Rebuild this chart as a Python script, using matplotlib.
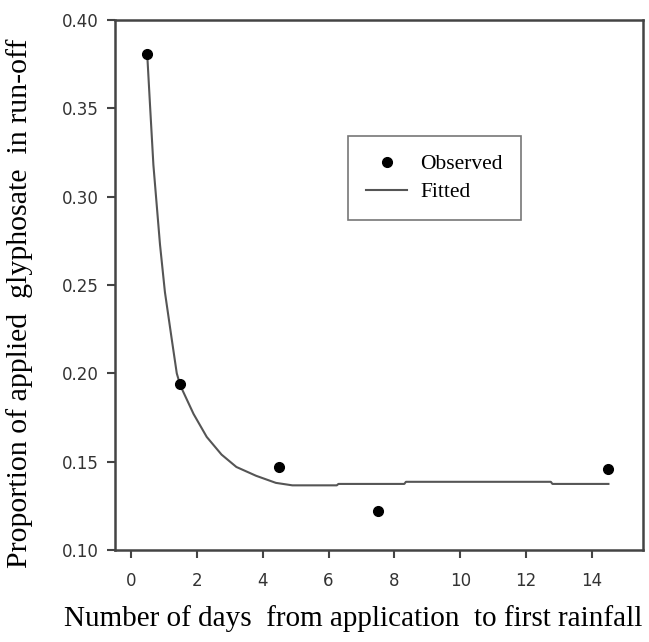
import matplotlib
matplotlib.use("Agg")
import matplotlib.pyplot as plt

# Observed data
obs_x = [0.5, 1.5, 4.5, 7.5, 14.5]
obs_y = [0.381, 0.194, 0.147, 0.122, 0.146]

# Fitted curve
fit_x = [0.5, 0.58, 0.68, 0.88, 1.03, 1.24, 1.39, 1.5, 1.9, 2.3, 2.75, 3.2, 3.8, 4.4, 4.9, 6.25, 6.3, 8.3, 8.35, 12.75, 12.8, 14.5]
fit_y = [0.378, 0.351, 0.318, 0.273, 0.246, 0.219, 0.200, 0.193, 0.177, 0.164, 0.154, 0.147, 0.142, 0.138, 0.1366, 0.1366, 0.1374, 0.1374, 0.1386, 0.1386, 0.1374, 0.1374]

x_ticks = [0, 2, 4, 6, 8, 10, 12, 14]
y_ticks = [0.10, 0.15, 0.20, 0.25, 0.30, 0.35, 0.40]

fig = plt.figure(figsize=(6.49, 6.42), dpi=100)
ax = fig.add_axes([115/649, 1-550/642, (643-115)/649, (550-20)/642])

ax.plot(fit_x, fit_y, color="#555555", lw=1.5, label="Fitted", zorder=2)
ax.plot(obs_x, obs_y, "o", color="black", ms=7, label="Observed", zorder=3)

ax.set_xlim(-0.486, 15.55)
ax.set_ylim(0.10, 0.40)
ax.set_xticks(x_ticks)
ax.set_xticklabels([str(t) for t in x_ticks])
ax.set_yticks(y_ticks)
ax.set_yticklabels([f"{t:.2f}" for t in y_ticks])

for s in ax.spines.values():
    s.set_color("#444444")
    s.set_linewidth(1.8)

ax.tick_params(axis="both", direction="out", length=6, width=1.5, color="#444444",
               labelsize=12, labelcolor="#333333")
ax.tick_params(axis="x", pad=10)
ax.tick_params(axis="y", pad=6)

serif = ["Liberation Serif", "DejaVu Serif"]
ax.set_xlabel("Number of days  from application  to first rainfall", fontsize=21,
              family=serif)
ax.xaxis.set_label_coords(0.452, -0.104)
ax.set_ylabel("Proportion of applied  glyphosate  in run-off", fontsize=21.5,
              family=serif)
ax.yaxis.set_label_coords(-0.156, 0.465)

handles, labels = ax.get_legend_handles_labels()
leg = ax.legend([handles[1], handles[0]], [labels[1], labels[0]],
                loc="upper left", bbox_to_anchor=(0.441, 0.781), borderaxespad=0,
                prop={"family": serif, "size": 15.5}, frameon=True, fancybox=False,
                edgecolor="#555555", handlelength=1.9, handletextpad=0.6,
                borderpad=0.85, labelspacing=0.35)
leg.get_frame().set_linewidth(1.2)

fig.savefig("out.png", dpi=100)
